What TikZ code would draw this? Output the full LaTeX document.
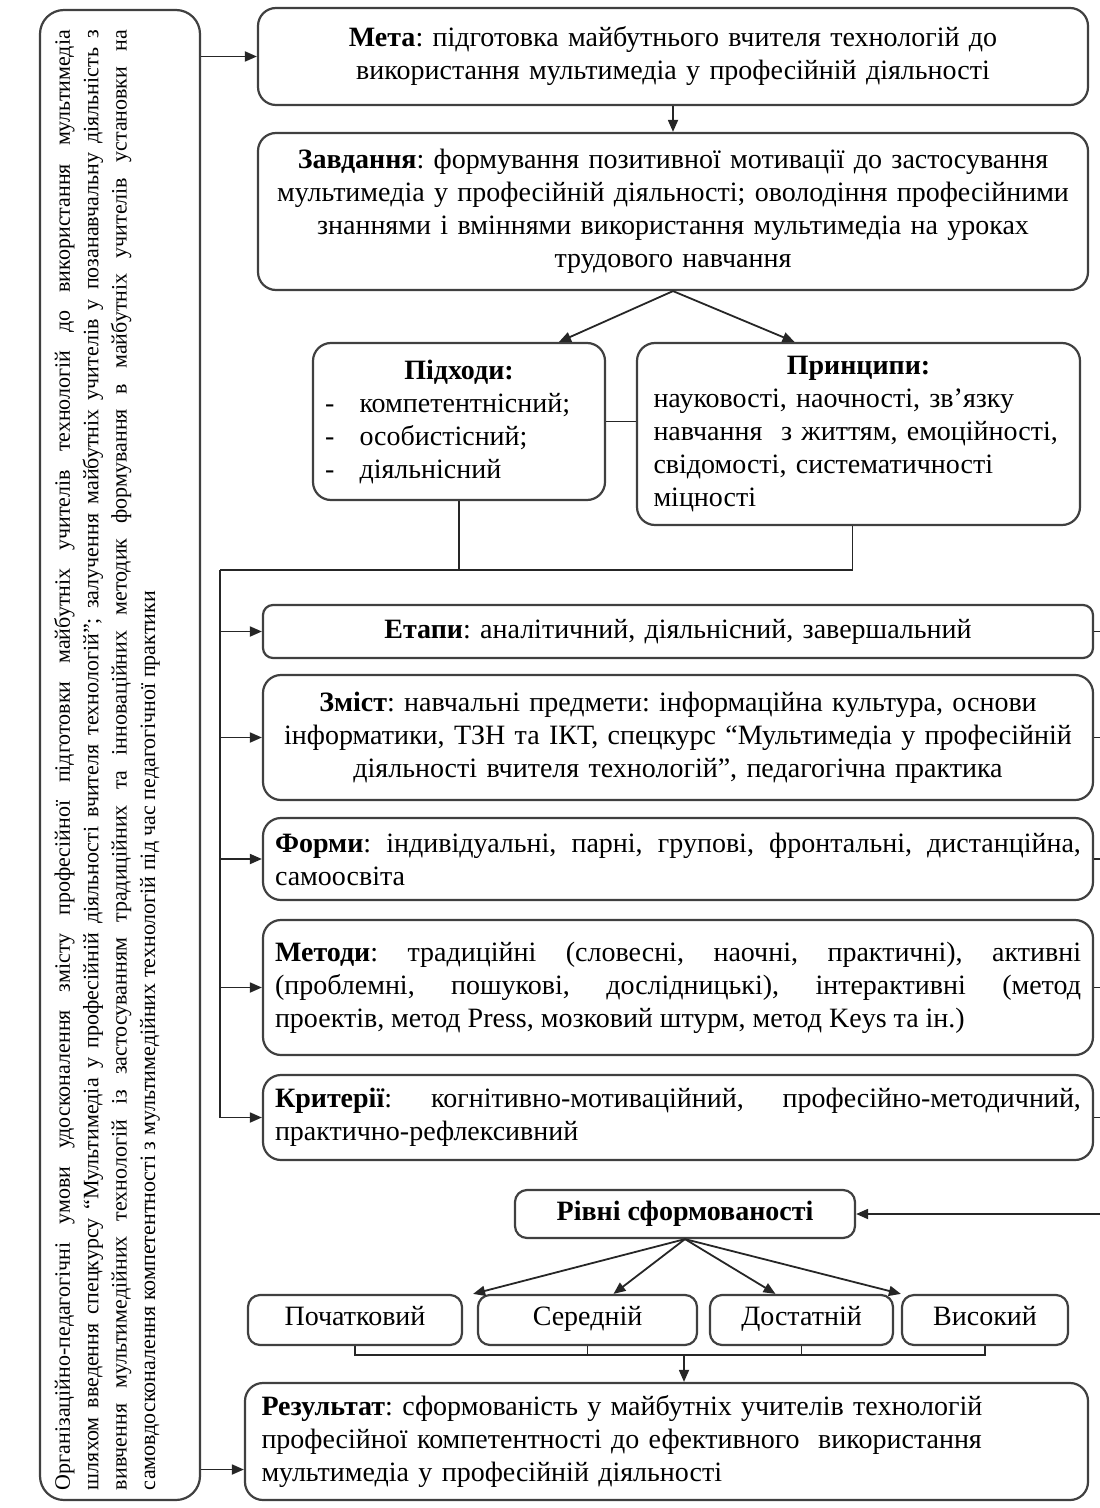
\documentclass[tikz,border=0pt]{standalone}
\usepackage{fontspec}
\setmainfont{Liberation Serif}
\usetikzlibrary{arrows.meta}
\frenchspacing
\newcommand*{\BoxW}{415pt}
\newcommand*{\TxtW}{403pt}
\newcommand*{\Txt}{\fontsize{14}{16.5}\selectfont}

\begin{document}
\begin{tikzpicture}[x=0.5pt, y=-0.5pt,
	box/.style={draw=black!75, line width=1.1pt, rounded corners=9pt, fill=white, inner xsep=5pt, inner ysep=2pt, font=\Txt},
	levelbox/.style={box, rounded corners=6pt, minimum height=25pt, text height=0.75em, text depth=0.25em},
	link/.style={draw=black!85, line width=0.9pt},
	>={Triangle[length=6pt, width=5pt]}]
	\useasboundingbox (0,0) rectangle (1099,1508);

% left column
	\node[box, rounded corners=12pt, minimum width=80pt, minimum height=745pt] (cond) at (120,755) {};
	\node[rotate=90, text width=730pt, align=justify, inner sep=0pt, font=\fontsize{11}{14.2}\selectfont] (condtext) at (107,760)
	{Організаційно-педагогічні умови удосконалення змісту професійної підготовки майбутніх учителів технологій до використання мультимедіа\linebreak
	шляхом введення спецкурсу “Мультимедіа у професійній діяльності вчителя технологій”; залучення майбутніх учителів у позанавчальну діяльність з\linebreak
	вивчення мультимедійних технологій із застосуванням традиційних та інноваційних методик формування в майбутніх учителів установки на\linebreak
	самовдосконалення компетентності з мультимедійних технологій під час педагогічної практики};

% top part
	\node[box, minimum width=\BoxW, minimum height=48.5pt, text width=\TxtW, align=center] (goal) at (673,56.5)
	{\textbf{Мета}: підготовка майбутнього вчителя технологій до\\ використання мультимедіа у професійній діяльності};
	\node[box, minimum width=\BoxW, minimum height=78.5pt, text width=\TxtW, align=center] (task) at (673,211.5)
	{\textbf{Завдання}: формування позитивної мотивації до застосування\\ мультимедіа у професійній діяльності; оволодіння професійними\\ знаннями і вміннями використання мультимедіа на уроках\\ трудового навчання};
	\node[box, minimum width=146pt, minimum height=78.5pt, text width=134pt, align=left] (appr) at (459,421.5)
	{\hfill\textbf{Підходи:}\hfill\null\\ -\hspace{0.9em}компетентнісний;\\ -\hspace{0.9em}особистісний;\\ -\hspace{0.9em}діяльнісний};
	\node[box, minimum width=221.5pt, minimum height=91pt, text width=205pt, align=left] (princ) at (858.5,434)
	{\hfill\textbf{Принципи:}\hfill\null\\ науковості, наочності, зв’язку\\ навчання\ \ з життям, емоційності,\\ свідомості, систематичності\\ міцності};

% middle part
	\node[box, rounded corners=5pt, minimum width=\BoxW, minimum height=26.5pt, text width=\TxtW, align=center] (stage) at (678,631.5)
	{\textbf{Етапи}: аналітичний, діяльнісний, завершальний};
	\node[box, minimum width=\BoxW, minimum height=62.5pt, text width=\TxtW, align=center] (cont) at (678,737.5)
	{\textbf{Зміст}: навчальні предмети: інформаційна культура, основи\\ інформатики, ТЗН та ІКТ, спецкурс “Мультимедіа у професійній\\ діяльності вчителя технологій”, педагогічна практика};
	\node[box, minimum width=\BoxW, minimum height=41pt, text width=\TxtW, align=justify] (form) at (678,859)
	{\textbf{Форми}: індивідуальні, парні, групові, фронтальні, дистанційна,\linebreak самоосвіта};
	\node[box, minimum width=\BoxW, minimum height=67.5pt, text width=\TxtW, align=justify] (meth) at (678,987.5)
	{\textbf{Методи}: традиційні (словесні, наочні, практичні), активні\linebreak (проблемні, пошукові, дослідницькі), інтерактивні (метод\linebreak проектів, метод Press, мозковий штурм, метод Keys та ін.)};
	\node[box, minimum width=\BoxW, minimum height=42.5pt, text width=\TxtW, align=justify] (crit) at (678,1117.5)
	{\textbf{Критерії}: когнітивно-мотиваційний, професійно-методичний,\linebreak практично-рефлексивний};

% levels
	\node[box, rounded corners=6pt, minimum width=170pt, minimum height=24pt] (lev) at (685,1214) {\textbf{Рівні сформованості}};
	\foreach \n/\x/\w/\t in {l1/355/107pt/Початковий, l2/587.5/109.5pt/Середній, l3/801.5/91.5pt/Достатній, l4/985/83pt/Високий}
	{
		\node[levelbox, minimum width=\w] (\n) at (\x,1320) {\t};
	}
	\node[box, minimum width=421.5pt, minimum height=58.5pt, text width=405pt, align=left] (res) at (666.5,1441.5)
	{\textbf{Результат}: сформованість у майбутніх учителів технологій\\ професійної компетентності до ефективного\ \ використання\\ мультимедіа у професійній діяльності};

% connectors
	\draw[link,->] (cond.east |- goal.west) -- (goal.west);
	\draw[link,->] ([yshift=-14pt]res.west -| cond.east) -- ([yshift=-14pt]res.west);
	\draw[link,->] (goal.south) -- (task.north);
	\draw[link,->] (task.south) -- ([xshift=50pt]appr.north);
	\draw[link,->] (task.south) -- ([xshift=-32pt]princ.north);
	\draw[link] (appr.east) -- (appr.east -| princ.west);
	\coordinate (bus) at (220,570);
	\draw[link] (appr.south) |- (bus);
	\draw[link] ([xshift=-3pt]princ.south) |- (bus);
	\draw[link] (bus) -- (bus |- crit.west);
	\coordinate (rbus) at (1103,632);
	\foreach \n in {stage,cont,form,meth,crit}
	{
		\draw[link,->] (bus |- \n.west) -- (\n.west);
		\draw[link] (\n.east) -- (rbus |- \n.east);
	}
	\draw[link] (rbus) -- (rbus |- lev.east);
	\draw[link,->] (rbus |- lev.east) -- (lev.east);
	\draw[link,->] (lev.south) -- ([xshift=5pt]l1.north east);
	\draw[link,->] (lev.south) -- ([xshift=13pt]l2.north);
	\draw[link,->] (lev.south) -- ([xshift=-13pt]l3.north);
	\draw[link,->] (lev.south) -- (l4.north west);
	\coordinate (brk) at (684,1355);
	\draw[link] (l1.south) |- (brk) -| (l4.south);
	\draw[link] (l2.south) -- (l2.south |- brk);
	\draw[link] (l3.south) -- (l3.south |- brk);
	\draw[link,->] (brk) -- (brk |- res.north);
\end{tikzpicture}
\end{document}
